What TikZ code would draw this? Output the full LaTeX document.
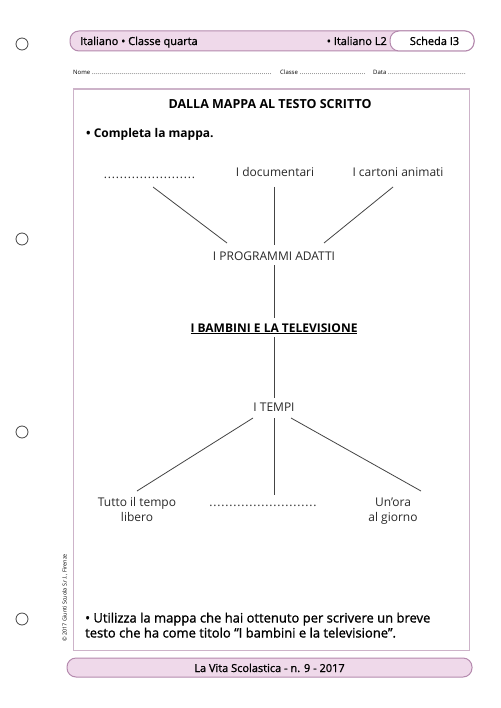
\documentclass[tikz,border=0pt]{standalone}
\usepackage{fontspec}
\setmainfont{Open Sans}
\newfontfamily\semib[FakeBold=1.2]{Open Sans}
\usetikzlibrary{calc}
\definecolor{barfill}{HTML}{EFD9EA}
\definecolor{barline}{HTML}{B58AAE}
\definecolor{boxline}{HTML}{CDB3C9}
\definecolor{maptext}{HTML}{2A2A2A}
\definecolor{linkcol}{HTML}{444444}
\newcommand{\dotrow}[2]{\hbox to #1{\leaders\hbox to #2{\hss.\hss}\hfill}}
\tikzset{
  bar/.style={draw=barline, fill=barfill, line width=1pt, rounded corners=9pt},
  hole/.style={draw=linkcol, line width=0.8pt},
  maplabel/.style={inner sep=0pt, anchor=base, text=maptext, font=\fontsize{12}{14}\selectfont},
  link/.style={draw=linkcol, line width=0.8pt},
  headtext/.style={inner sep=0pt, font=\semib\fontsize{11}{13}\selectfont},
  smalltext/.style={inner sep=0pt, anchor=base west, font=\fontsize{6}{7}\selectfont},
}
\begin{document}
\begin{tikzpicture}[x=1pt,y=-1pt]
\useasboundingbox (0,0) rectangle (500,708);
\fill[white] (0,0) rectangle (500,708);

% punch holes
\foreach \yy in {44,239,432,619} \draw[hole] (22,\yy) circle[radius=6pt];

% header bar
\draw[bar] (70,31) rectangle (474,51);
\draw[draw=barline, fill=white, line width=1pt, rounded corners=9pt] (390,31) rectangle (474,51);
\node[headtext, anchor=base west] (hleft) at (80,45) {Italiano • Classe quarta};
\node[headtext, anchor=base east] (hright) at (387,45) {• Italiano L2};
\node[headtext, anchor=base] (scheda) at (434.5,45) {Scheda I3};

% name line
\node[smalltext] (nome) at (73,75) {Nome \dotrow{180pt}{2pt}};
\node[smalltext] (classe) at (280,75) {Classe \dotrow{66pt}{2pt}};
\node[smalltext] (data) at (373,75) {Data \dotrow{79pt}{2pt}};

% main box
\draw[draw=boxline, line width=1pt] (73,89) rectangle (469,650);
\draw[draw=boxline, line width=2.5pt] (73,89) -- (469,89);

% title and instructions
\node[inner sep=0pt, anchor=base, font=\bfseries\fontsize{12.5}{14}\selectfont] (title) at (270,109) {DALLA MAPPA AL TESTO SCRITTO};
\node[inner sep=0pt, anchor=base west, font=\bfseries\fontsize{12}{14}\selectfont] (compl) at (86,137.5) {• Completa la mappa.};

% map
\node[maplabel] (dotsA) at (151,179) {\dotrow{95pt}{4pt}};
\node[maplabel] (doc) at (275,177) {I documentari};
\node[maplabel] (cart) at (398,177) {I cartoni animati};
\node[maplabel] (prog) at (274,261) {I PROGRAMMI ADATTI};
\node[maplabel, text=black, font=\bfseries\fontsize{12}{14}\selectfont] (bamb) at (274,332) {\underline{I BAMBINI E LA TELEVISIONE}};
\node[maplabel] (tempi) at (274,411) {I TEMPI};
\node[maplabel] (tutto) at (137,506) {Tutto il tempo};
\node[maplabel] (tutto2) at (137,521) {libero};
\node[maplabel] (dotsB) at (264.5,506) {\dotrow{111pt}{4pt}};
\node[maplabel] (unora) at (393,506) {Un’ora};
\node[maplabel] (unora2) at (393,521) {al giorno};

\draw[link] ($(dotsA.base)+(2,8)$) -- ($(prog.base)+(-47,-18)$);
\draw[link] ($(doc.base)+(-1,10)$) -- ($(prog.base)+(0,-16)$);
\draw[link] ($(cart.base)+(-5,10)$) -- ($(prog.base)+(50,-18)$);
\draw[link] ($(prog.base)+(0,4)$) -- ($(bamb.base)+(0,-14)$);
\draw[link] ($(bamb.base)+(0,5)$) -- ($(tempi.base)+(0,-13)$);
\draw[link] ($(tempi.base)+(-21,7)$) -- ($(tutto.base)+(0,-15)$);
\draw[link] ($(tempi.base)+(0,7)$) -- ($(dotsB.base)+(9.5,-11)$);
\draw[link] ($(tempi.base)+(17,7)$) -- ($(unora.base)+(28,-15)$);

% final instruction
\node[inner sep=0pt, anchor=base west, font=\semib\fontsize{13}{15}\selectfont] (util1) at (85,622.5) {• Utilizza la mappa che hai ottenuto per scrivere un breve};
\node[inner sep=0pt, anchor=base west, font=\semib\fontsize{13}{15}\selectfont] (util2) at (85,637.5) {testo che ha come titolo “I bambini e la televisione”.};

% copyright
\node[inner sep=0pt, rotate=90, font=\fontsize{5.5}{6}\selectfont] (copy) at (65,598) {© 2017 Giunti Scuola S.r.l., Firenze};

% footer
\draw[bar] (67,658) rectangle (472,677);
\node[headtext, anchor=base] (foot) at (269.5,672) {La Vita Scolastica - n. 9 - 2017};
\end{tikzpicture}
\end{document}
